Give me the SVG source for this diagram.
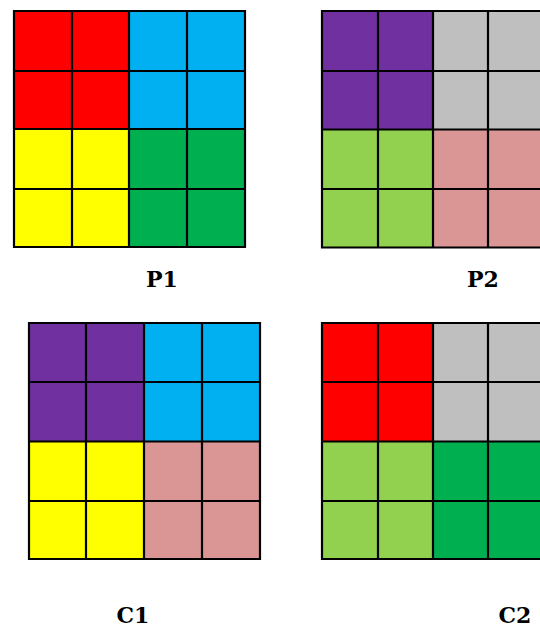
<svg xmlns="http://www.w3.org/2000/svg" width="540" height="628" viewBox="0 0 540 628">
<style>
.g{fill:none;stroke:#000;stroke-width:2.2}
.lbl{font-family:"DejaVu Serif","Liberation Serif",serif;font-weight:bold;font-size:22px;fill:#000;text-anchor:middle}
.red{fill:#FF0000}.blue{fill:#00B0F0}.yel{fill:#FFFF00}.grn{fill:#00B050}
.pur{fill:#7030A0}.gry{fill:#BFBFBF}.lgr{fill:#92D050}.pnk{fill:#DA9694}
</style>
<rect width="540" height="628" fill="#fff"/>
<g id="P1">
<rect class="red" x="14" y="11" width="115" height="118"/>
<rect class="blue" x="129" y="11" width="116" height="118"/>
<rect class="yel" x="14" y="129" width="115" height="118"/>
<rect class="grn" x="129" y="129" width="116" height="118"/>
<path class="g" d="M14 11H245V247H14Z M72 11V247 M129 11V247 M187 11V247 M14 71H245 M14 129H245 M14 189H245"/>
<text class="lbl" x="162" y="287">P1</text>
</g>
<g id="P2">
<rect class="pur" x="322" y="11" width="111" height="118.5"/>
<rect class="gry" x="433" y="11" width="110" height="118.5"/>
<rect class="lgr" x="322" y="129.5" width="111" height="118"/>
<rect class="pnk" x="433" y="129.5" width="110" height="118"/>
<path class="g" d="M322 11H543V247.5H322Z M378 11V247.5 M433 11V247.5 M488 11V247.5 M322 71H543 M322 129.5H543 M322 189H543"/>
<text class="lbl" x="483" y="287">P2</text>
</g>
<g id="C1">
<rect class="pur" x="29" y="323" width="115" height="118.5"/>
<rect class="blue" x="144" y="323" width="116" height="118.5"/>
<rect class="yel" x="29" y="441.5" width="115" height="117.5"/>
<rect class="pnk" x="144" y="441.5" width="116" height="117.5"/>
<path class="g" d="M29 323H260V559H29Z M86 323V559 M144 323V559 M202 323V559 M29 382H260 M29 441.5H260 M29 501H260"/>
<text class="lbl" x="133" y="623">C1</text>
</g>
<g id="C2">
<rect class="red" x="322" y="323" width="111" height="118.5"/>
<rect class="gry" x="433" y="323" width="110" height="118.5"/>
<rect class="lgr" x="322" y="441.5" width="111" height="117.5"/>
<rect class="grn" x="433" y="441.5" width="110" height="117.5"/>
<path class="g" d="M322 323H543V559H322Z M378 323V559 M433 323V559 M488 323V559 M322 382H543 M322 441.5H543 M322 501H543"/>
<text class="lbl" x="515" y="623">C2</text>
</g>
<g id="connectors"/>
</svg>
